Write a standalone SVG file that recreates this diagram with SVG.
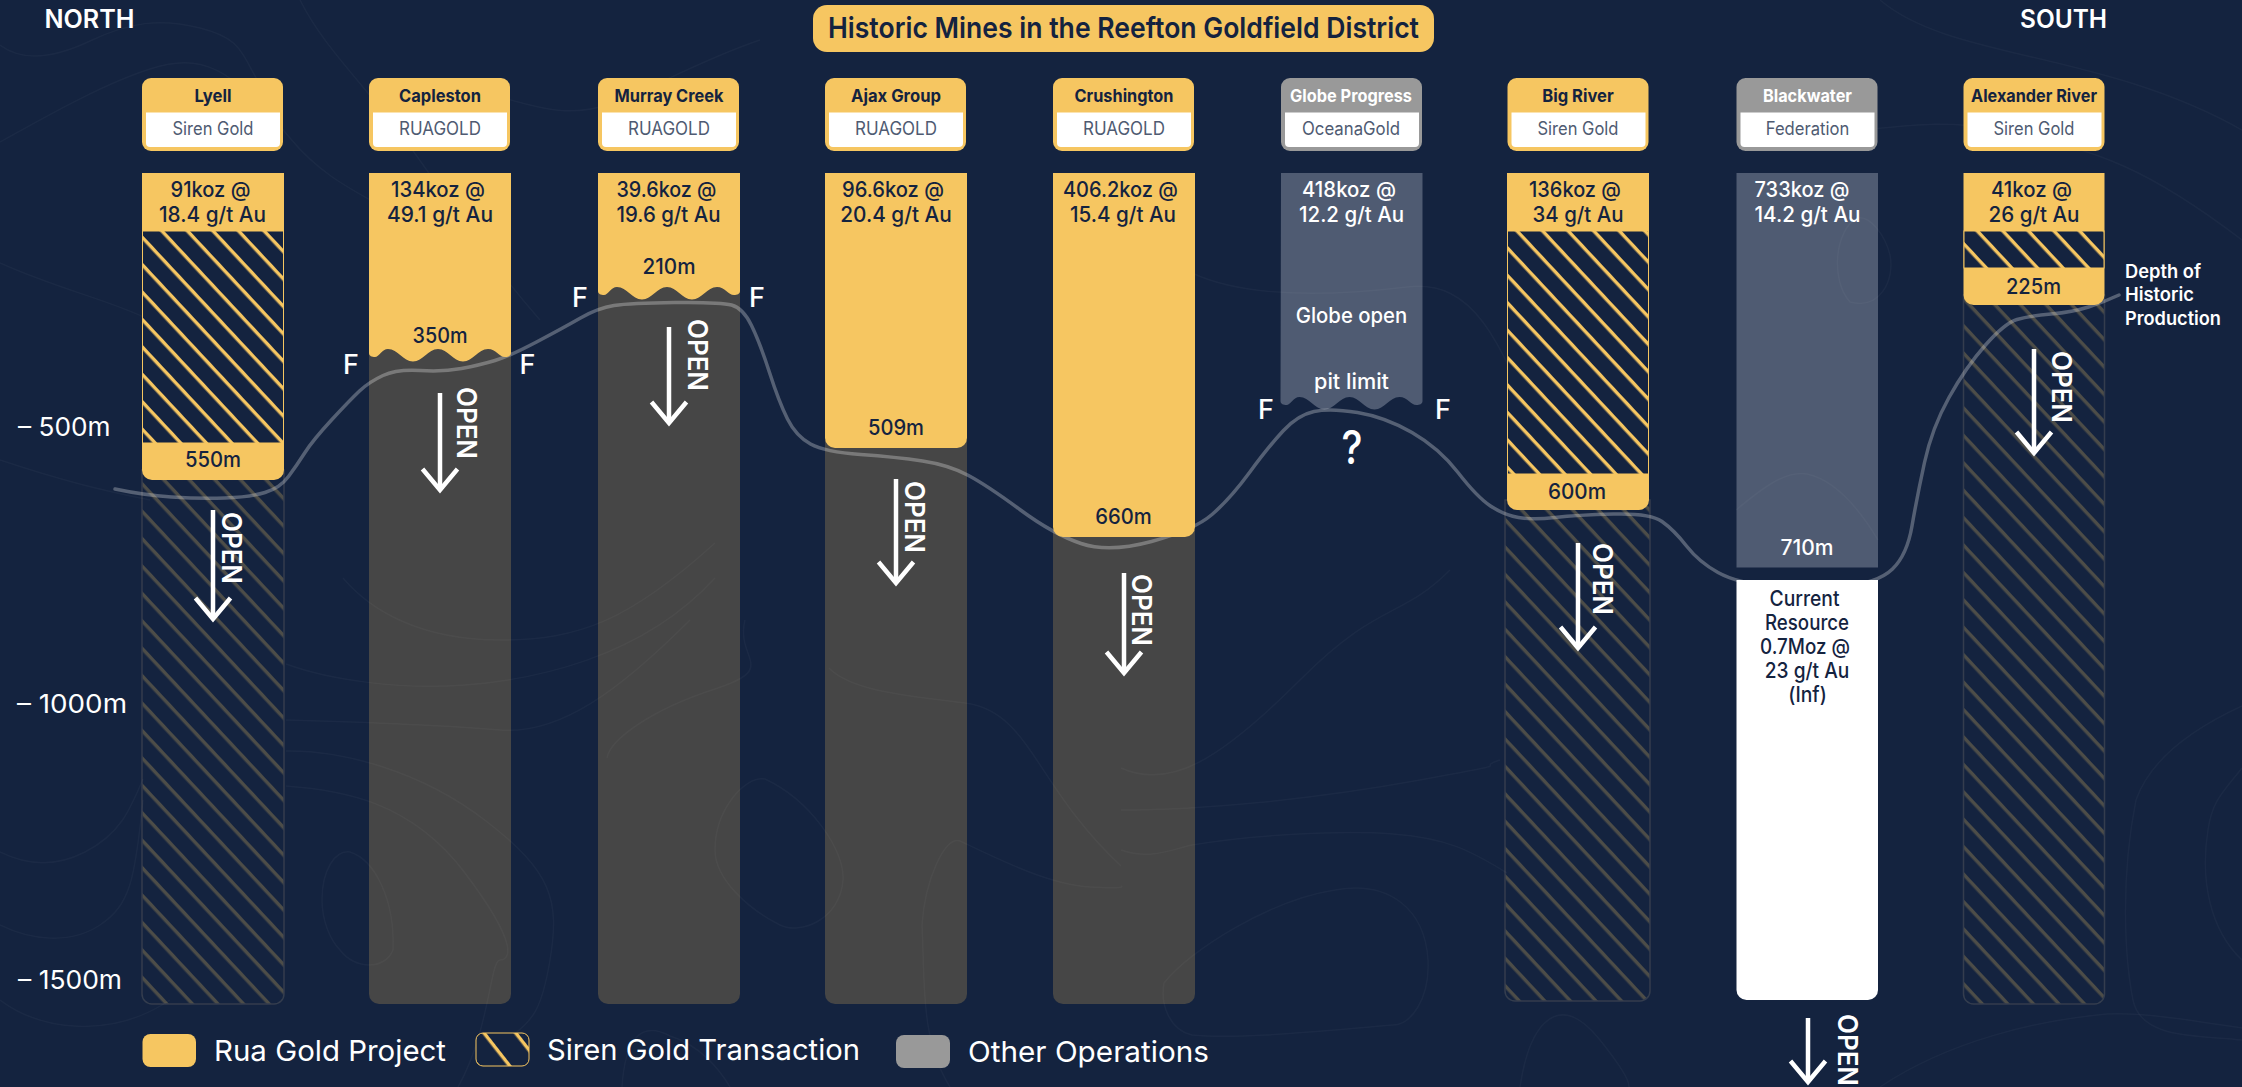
<svg xmlns="http://www.w3.org/2000/svg" width="2242" height="1087" viewBox="0 0 2242 1087">
<defs>
<style>
text{font-family:"Inter","Noto Sans",sans-serif;fill:#14233f}
.t{text-anchor:middle}
.l{font-size:17.500px;font-weight:700}
.s{font-size:18px;fill:#4f5b72}
.v{font-size:21px;font-weight:500;text-anchor:middle}
.w{fill:#fff}
.f{font-size:27px;font-weight:500;fill:#fff}
.open{font-size:27px;font-weight:600;fill:#fff}
.ax{font-size:26px;fill:#fff}
.leg{font-size:29px;fill:#fff}
.dep{font-size:18.500px;font-weight:600;fill:#fff}
.gold{fill:#f6c661}
.grey{fill:#999}
.slate{fill:#4f5b72}
.dark{fill:#464646}
.panel{fill:#fff}
.hatchU{fill:url(#hU);stroke:#f6c661;stroke-width:1}
.hatchL{fill:url(#hL);stroke:#343d4e;stroke-width:1.500}
.cont{fill:none;stroke:#fff;stroke-opacity:.032;stroke-width:1.500}
.depth{fill:none;stroke:#fff;stroke-opacity:.28;stroke-width:3.500;stroke-linecap:round}
.arr{stroke:#fff;stroke-width:4.500;fill:none;marker-end:url(#ah)}
</style>
<pattern id="hU" width="18.700" height="18.700" patternUnits="userSpaceOnUse" patternTransform="rotate(47)"><rect width="18.700" height="18.700" fill="#14233f"/><rect width="18.700" height="3.400" fill="#f6c661"/></pattern>
<pattern id="hL" width="18.700" height="18.700" patternUnits="userSpaceOnUse" patternTransform="rotate(47)"><rect width="18.700" height="3.400" fill="#4d4d48"/></pattern>
<pattern id="hK" width="25" height="25" patternUnits="userSpaceOnUse" patternTransform="rotate(52 476 1033)"><rect width="25" height="25" fill="#14233f"/><rect width="25" height="3.400" fill="#f6c661"/></pattern>
<marker id="ah" markerUnits="userSpaceOnUse" viewBox="-26 -22 30 44" refX="0" refY="0" markerWidth="30" markerHeight="44" orient="auto" overflow="visible"><path d="M-21,-17.500L0,0L-21,17.500" fill="none" stroke="#fff" stroke-width="4.500"/></marker>
</defs>
<rect id="background" width="2242" height="1087" fill="#14233f"/>

<g id="deep-columns">
<path class="hatchL" d="M142,470H284V994a10,10 0 0 1-10,10H152a10,10 0 0 1-10-10Z"/>
<path class="dark" d="M369,345H511V994a10,10 0 0 1-10,10H379a10,10 0 0 1-10-10Z"/>
<path class="dark" d="M598,285H740V994a10,10 0 0 1-10,10H608a10,10 0 0 1-10-10Z"/>
<path class="dark" d="M825,440H967V994a10,10 0 0 1-10,10H835a10,10 0 0 1-10-10Z"/>
<path class="dark" d="M1053,530H1195V994a10,10 0 0 1-10,10H1063a10,10 0 0 1-10-10Z"/>
<rect class="slate" x="1736.500" y="173" width="141.500" height="394.500"/>
<path class="hatchL" d="M1505,500H1650V991a10,10 0 0 1-10,10H1515a10,10 0 0 1-10-10Z"/>
<path class="hatchL" d="M1963.500,295H2104.500V994a10,10 0 0 1-10,10H1973.500a10,10 0 0 1-10-10Z"/>
<path class="slate" d="M1281,173H1422.500V401c0,3-3,4-6,4c-6,0-9-8-17-8c-10,0-15,12.500-25,12.500c-10,0-15-12.500-25-12.500c-10,0-15,12.500-25,12.500c-10,0-15-12.500-25-12.500c-6,0-9,8-13,8c-3,0-6-1-6-4Z"/>
</g>

<g id="contours">
<path class="cont" d="M0,45C20,60 50,60 90,41S160,18 200,28S240,50 260,85"/>
<path class="cont" d="M0,142C40,120 100,85 150,69S230,65 290,138S420,200 490,300"/>
<path class="cont" d="M0,263C60,290 110,300 150,320"/>
<path class="cont" d="M0,460C60,480 100,490 150,500"/>
<path class="cont" d="M300,0C320,40 350,70 390,120S470,240 540,320"/>
<path class="cont" d="M500,97C540,108 570,118 610,104S700,60 760,40"/>
<path class="cont" d="M0,852C20,862 50,870 85,852S130,810 143,779"/>
<path class="cont" d="M0,925C30,940 70,945 100,925S135,880 143,800"/>
<path class="cont" d="M0,1000C40,1030 110,1040 170,1000"/>
<path class="cont" d="M286,664C330,680 400,690 465,685S640,660 715,578"/>
<path class="cont" d="M286,720C360,722 440,725 500,730S620,690 690,620"/>
<path class="cont" d="M343,578C370,610 420,640 500,640S630,620 715,543"/>
<path class="cont" d="M286,786C340,790 410,800 465,873S510,960 500,960S490,1030 458,1087"/>
<path class="cont" d="M286,751C340,750 420,770 486,821S560,900 550,960S530,1020 500,1046"/>
<path class="cont" d="M322,900C322,870 335,850 350,852C375,860 395,900 393,950C385,970 355,970 340,950C330,940 322,920 322,900Z"/>
<path class="cont" d="M607,758C610,740 650,710 715,689S735,660 745,620"/>
<path class="cont" d="M715,850C715,810 745,775 765,779C810,800 845,850 843,880C840,920 800,935 780,925C750,910 715,880 715,850Z"/>
<path class="cont" d="M829,668C850,690 900,695 965,703S1035,786 1121,866"/>
<path class="cont" d="M922,925C925,880 945,835 960,841C1000,860 1050,885 1090,887S1121,886 1121,886"/>
<path class="cont" d="M922,925C925,980 920,1040 950,1087"/>
<path class="cont" d="M622,1087C625,1040 640,1020 670,1036C700,1045 720,1070 730,1087"/>
<path class="cont" d="M1121,768C1170,790 1220,760 1300,680S1400,620 1450,570"/>
<path class="cont" d="M1164,983C1190,950 1270,900 1335,890C1390,880 1425,910 1428,960C1430,1000 1410,1025 1393,1025C1330,1030 1240,1040 1192,1035C1170,1030 1160,1005 1164,983Z"/>
<path class="cont" d="M1121,850C1150,860 1170,850 1192,845C1250,835 1340,830 1393,834S1470,850 1507,873"/>
<path class="cont" d="M1121,810C1200,810 1310,800 1420,780S1470,770 1500,760"/>
<path class="cont" d="M1192,273C1250,300 1340,295 1407,287S1500,340 1540,440"/>
<path class="cont" d="M1857,218C1835,230 1830,280 1850,302C1880,310 1895,280 1890,255C1885,235 1870,215 1857,218Z"/>
<path class="cont" d="M1736,510C1760,490 1785,470 1807,474C1835,480 1860,510 1878,540"/>
<path class="cont" d="M1780,120C1840,150 1900,110 2000,130S2150,170 2242,240"/>
<path class="cont" d="M1880,0C1950,60 2100,50 2242,130"/>
<path class="cont" d="M2242,706C2190,730 2150,760 2136,800C2120,880 2125,960 2133,1000S2200,1035 2242,1040"/>
<path class="cont" d="M2242,768C2225,790 2212,800 2208,830C2200,880 2210,930 2242,960"/>
<path class="cont" d="M2242,1028C2190,1020 2140,1012 2107,1014C2040,1020 1950,1040 1880,1087"/>
<path class="cont" d="M1520,1087C1530,1020 1560,990 1600,1040S1625,1087 1630,1087"/>
</g>

<g id="connectors">
<path id="historic-depth" class="depth" d="M115,489Q143,495 171.500,497Q200,499 225,498Q250,497 265,492.500Q280,488 288.500,476.500Q297,465 305,452.500Q313,440 331.500,420Q350,400 359.500,391Q369,382 383,375.500Q397,369 420,370.500Q443,372 461.500,368.500Q480,365 495,360.500Q510,356 536.500,342Q563,328 580.500,318Q598,308 614,305.500Q630,303 675,302.500Q720,302 731.500,305Q743,308 751.500,325.500Q760,343 769.500,372.500Q779,402 787.500,419Q796,436 810.500,444Q825,452 860.500,454.500Q896,457 922.500,461Q949,465 968.500,475.500Q988,486 1020.500,510Q1053,534 1081,543.500Q1109,553 1151.500,541.500Q1194,530 1212,514.500Q1230,499 1249.500,472.500Q1269,446 1283.500,430.500Q1298,415 1314,411.500Q1330,408 1357.500,412.500Q1385,417 1412,432.500Q1439,448 1458,472.500Q1477,497 1490.500,506Q1504,515 1518.500,517.500Q1533,520 1555,517.500Q1577,515 1613.500,514Q1650,513 1662,521.500Q1674,530 1686.500,546Q1699,562 1718,572.500Q1737,583 1772,586.500Q1807,590 1842.500,586.500Q1878,583 1892.500,569Q1907,555 1912,526Q1917,497 1924.500,462.500Q1932,428 1949,397.500Q1966,367 1985.500,345Q2005,323 2017,319.500Q2029,316 2051,314Q2073,312 2088.500,307Q2104,302 2119,295"/>
<line class="arr" x1="213" y1="510" x2="213" y2="619"/>
<line class="arr" x1="440" y1="393" x2="440" y2="490"/>
<line class="arr" x1="669" y1="327" x2="669" y2="423"/>
<line class="arr" x1="896" y1="479" x2="896" y2="583"/>
<line class="arr" x1="1124" y1="573" x2="1124" y2="673"/>
<line class="arr" x1="1578" y1="543" x2="1578" y2="648"/>
<line class="arr" x1="2034" y1="349" x2="2034" y2="453"/>
<line class="arr" x1="1808" y1="1018" x2="1808" y2="1082"/>
</g>

<g id="title"><rect class="gold" x="813" y="5" width="621" height="47" rx="14"/><text class="t" x="1123.500" y="38" font-size="29" font-weight="600" textLength="591" lengthAdjust="spacingAndGlyphs">Historic Mines in the Reefton Goldfield District</text></g>
<text id="north" x="44.500" y="28" font-size="25" font-weight="600" style="fill:#fff" textLength="90" lengthAdjust="spacingAndGlyphs">NORTH</text>
<text id="south" x="2020" y="28" font-size="25" font-weight="600" style="fill:#fff" textLength="87" lengthAdjust="spacingAndGlyphs">SOUTH</text>

<g id="axis">
<text class="ax" x="18" y="436" textLength="92.500" lengthAdjust="spacingAndGlyphs">– 500m</text>
<text class="ax" x="17" y="713" textLength="110" lengthAdjust="spacingAndGlyphs">– 1000m</text>
<text class="ax" x="18" y="989" textLength="104" lengthAdjust="spacingAndGlyphs">– 1500m</text>
</g>

<g id="lyell">
<rect class="gold" x="142" y="78" width="141" height="73" rx="9"/><path class="panel" d="M146,112.500H280V143a4,4 0 0 1-4,4H150a4,4 0 0 1-4-4Z"/>
<text class="t l" x="213" y="102" textLength="37" lengthAdjust="spacingAndGlyphs">Lyell</text><text class="t s" x="213" y="135" textLength="81" lengthAdjust="spacingAndGlyphs">Siren Gold</text>
<path class="gold" d="M142,173H284V470a10,10 0 0 1-10,10H152a10,10 0 0 1-10-10Z"/><rect class="hatchU" x="142.500" y="231" width="141" height="212"/>
<text class="v" x="210.500" y="197" textLength="80" lengthAdjust="spacingAndGlyphs">91koz @</text><text class="v" x="212.500" y="222" textLength="107" lengthAdjust="spacingAndGlyphs">18.4 g/t Au</text>
<text class="v" x="213" y="467" textLength="56" lengthAdjust="spacingAndGlyphs">550m</text>
</g>

<g id="capleston">
<rect class="gold" x="369" y="78" width="141" height="73" rx="9"/><path class="panel" d="M373,112.500H507V143a4,4 0 0 1-4,4H377a4,4 0 0 1-4-4Z"/>
<text class="t l" x="440" y="102" textLength="82" lengthAdjust="spacingAndGlyphs">Capleston</text><text class="t s" x="440" y="135" textLength="82" lengthAdjust="spacingAndGlyphs">RUAGOLD</text>
<path class="gold" d="M369,173H511V353c0,3-3,4-6,4c-6,0-9-8-17-8c-10,0-15,12.500-25,12.500c-10,0-15-12.500-25-12.500c-10,0-15,12.500-25,12.500c-10,0-15-12.500-25-12.500c-6,0-9,8-13,8c-3,0-6-1-6-4Z"/>
<text class="v" x="438" y="197" textLength="94" lengthAdjust="spacingAndGlyphs">134koz @</text><text class="v" x="440" y="222" textLength="106" lengthAdjust="spacingAndGlyphs">49.1 g/t Au</text>
<text class="v" x="440" y="343" textLength="55" lengthAdjust="spacingAndGlyphs">350m</text>
</g>

<g id="murray-creek">
<rect class="gold" x="598" y="78" width="141" height="73" rx="9"/><path class="panel" d="M602,112.500H736V143a4,4 0 0 1-4,4H606a4,4 0 0 1-4-4Z"/>
<text class="t l" x="669" y="102" textLength="109" lengthAdjust="spacingAndGlyphs">Murray Creek</text><text class="t s" x="669" y="135" textLength="82" lengthAdjust="spacingAndGlyphs">RUAGOLD</text>
<path class="gold" d="M598,173H740V291c0,3-3,4-6,4c-6,0-9-8-17-8c-10,0-15,12.500-25,12.500c-10,0-15-12.500-25-12.500c-10,0-15,12.500-25,12.500c-10,0-15-12.500-25-12.500c-6,0-9,8-13,8c-3,0-6-1-6-4Z"/>
<text class="v" x="666.500" y="197" textLength="100" lengthAdjust="spacingAndGlyphs">39.6koz @</text><text class="v" x="668.500" y="222" textLength="104" lengthAdjust="spacingAndGlyphs">19.6 g/t Au</text>
<text class="v" x="669" y="274" textLength="53" lengthAdjust="spacingAndGlyphs">210m</text>
</g>

<g id="ajax-group">
<rect class="gold" x="825" y="78" width="141" height="73" rx="9"/><path class="panel" d="M829,112.500H963V143a4,4 0 0 1-4,4H833a4,4 0 0 1-4-4Z"/>
<text class="t l" x="896" y="102" textLength="90" lengthAdjust="spacingAndGlyphs">Ajax Group</text><text class="t s" x="896" y="135" textLength="82" lengthAdjust="spacingAndGlyphs">RUAGOLD</text>
<path class="gold" d="M825,173H967V438a10,10 0 0 1-10,10H835a10,10 0 0 1-10-10Z"/>
<text class="v" x="893" y="197" textLength="102" lengthAdjust="spacingAndGlyphs">96.6koz @</text><text class="v" x="896" y="222" textLength="111.500" lengthAdjust="spacingAndGlyphs">20.4 g/t Au</text>
<text class="v" x="896" y="434.500" textLength="56" lengthAdjust="spacingAndGlyphs">509m</text>
</g>

<g id="crushington">
<rect class="gold" x="1053" y="78" width="141" height="73" rx="9"/><path class="panel" d="M1057,112.500H1191V143a4,4 0 0 1-4,4H1061a4,4 0 0 1-4-4Z"/>
<text class="t l" x="1124" y="102" textLength="99" lengthAdjust="spacingAndGlyphs">Crushington</text><text class="t s" x="1124" y="135" textLength="82" lengthAdjust="spacingAndGlyphs">RUAGOLD</text>
<path class="gold" d="M1053,173H1195V527a10,10 0 0 1-10,10H1063a10,10 0 0 1-10-10Z"/>
<text class="v" x="1120.500" y="197" textLength="115" lengthAdjust="spacingAndGlyphs">406.2koz @</text><text class="v" x="1123" y="222" textLength="106" lengthAdjust="spacingAndGlyphs">15.4 g/t Au</text>
<text class="v" x="1123.500" y="523.500" textLength="56.500" lengthAdjust="spacingAndGlyphs">660m</text>
</g>

<g id="globe-progress">
<rect class="grey" x="1281" y="78" width="141" height="73" rx="9"/><path class="panel" d="M1285,112.500H1419V143a4,4 0 0 1-4,4H1289a4,4 0 0 1-4-4Z"/>
<text class="t l w" x="1351" y="102" textLength="122" lengthAdjust="spacingAndGlyphs">Globe Progress</text><text class="t s" x="1351" y="135" textLength="98" lengthAdjust="spacingAndGlyphs">OceanaGold</text>
<text class="v w" x="1349" y="197" textLength="94" lengthAdjust="spacingAndGlyphs">418koz @</text><text class="v w" x="1351.500" y="222" textLength="105" lengthAdjust="spacingAndGlyphs">12.2 g/t Au</text>
<text class="v w" x="1351.500" y="323" textLength="111.500" lengthAdjust="spacingAndGlyphs">Globe open</text><text class="v w" x="1351.500" y="388.500" textLength="75" lengthAdjust="spacingAndGlyphs">pit limit</text>
<text class="t w" x="1352" y="464" font-size="47" font-weight="500" textLength="21" lengthAdjust="spacingAndGlyphs">?</text>
</g>

<g id="big-river">
<rect class="gold" x="1507.500" y="78" width="141" height="73" rx="9"/><path class="panel" d="M1511.500,112.500H1645.500V143a4,4 0 0 1-4,4H1515.500a4,4 0 0 1-4-4Z"/>
<text class="t l" x="1578" y="102" textLength="71.500" lengthAdjust="spacingAndGlyphs">Big River</text><text class="t s" x="1578" y="135" textLength="81" lengthAdjust="spacingAndGlyphs">Siren Gold</text>
<path class="gold" d="M1507,173H1649V500a10,10 0 0 1-10,10H1517a10,10 0 0 1-10-10Z"/><rect class="hatchU" x="1507.500" y="231" width="141" height="243"/>
<text class="v" x="1575" y="197" textLength="92" lengthAdjust="spacingAndGlyphs">136koz @</text><text class="v" x="1578" y="222" textLength="91" lengthAdjust="spacingAndGlyphs">34 g/t Au</text>
<text class="v" x="1577" y="499" textLength="58" lengthAdjust="spacingAndGlyphs">600m</text>
</g>

<g id="blackwater">
<rect class="grey" x="1736.500" y="78" width="141" height="73" rx="9"/><path class="panel" d="M1740.500,112.500H1874.500V143a4,4 0 0 1-4,4H1744.500a4,4 0 0 1-4-4Z"/>
<text class="t l w" x="1807.500" y="102" textLength="89" lengthAdjust="spacingAndGlyphs">Blackwater</text><text class="t s" x="1807.500" y="135" textLength="83.500" lengthAdjust="spacingAndGlyphs">Federation</text>
<text class="v w" x="1802" y="197" textLength="95" lengthAdjust="spacingAndGlyphs">733koz @</text><text class="v w" x="1807.500" y="222" textLength="106" lengthAdjust="spacingAndGlyphs">14.2 g/t Au</text>
<text class="v w" x="1807" y="555" textLength="53" lengthAdjust="spacingAndGlyphs">710m</text>
<path d="M1736.500,580H1878V990a10,10 0 0 1-10,10H1746.500a10,10 0 0 1-10-10Z" fill="#fff"/>
<text class="v" x="1804.500" y="606" textLength="70" lengthAdjust="spacingAndGlyphs">Current</text><text class="v" x="1807" y="630" textLength="84" lengthAdjust="spacingAndGlyphs">Resource</text><text class="v" x="1805" y="654" textLength="90" lengthAdjust="spacingAndGlyphs">0.7Moz @</text><text class="v" x="1807" y="678" textLength="84.500" lengthAdjust="spacingAndGlyphs">23 g/t Au</text><text class="v" x="1807.500" y="701.500" textLength="38.500" lengthAdjust="spacingAndGlyphs">(Inf)</text>
</g>

<g id="alexander-river">
<rect class="gold" x="1963.500" y="78" width="141" height="73" rx="9"/><path class="panel" d="M1967.500,112.500H2101.500V143a4,4 0 0 1-4,4H1971.500a4,4 0 0 1-4-4Z"/>
<text class="t l" x="2034" y="102" textLength="126" lengthAdjust="spacingAndGlyphs">Alexander River</text><text class="t s" x="2034" y="135" textLength="81" lengthAdjust="spacingAndGlyphs">Siren Gold</text>
<path class="gold" d="M1963.500,173H2104.500V295a10,10 0 0 1-10,10H1973.500a10,10 0 0 1-10-10Z"/><rect class="hatchU" x="1964" y="231" width="140" height="37"/>
<text class="v" x="2031.500" y="197" textLength="81" lengthAdjust="spacingAndGlyphs">41koz @</text><text class="v" x="2034" y="222" textLength="91" lengthAdjust="spacingAndGlyphs">26 g/t Au</text>
<text class="v" x="2033.500" y="293.500" textLength="55" lengthAdjust="spacingAndGlyphs">225m</text>
</g>

<g id="fault-labels">
<text class="f" x="343" y="374">F</text><text class="f" x="519.500" y="374">F</text>
<text class="f" x="572" y="307">F</text><text class="f" x="749" y="307">F</text>
<text class="f" x="1258" y="419">F</text><text class="f" x="1435" y="419">F</text>
</g>

<g id="open-labels">
<text class="open" transform="translate(222,512) rotate(90)" textLength="72" lengthAdjust="spacingAndGlyphs">OPEN</text>
<text class="open" transform="translate(457,387) rotate(90)" textLength="72" lengthAdjust="spacingAndGlyphs">OPEN</text>
<text class="open" transform="translate(688,319) rotate(90)" textLength="72" lengthAdjust="spacingAndGlyphs">OPEN</text>
<text class="open" transform="translate(905,481) rotate(90)" textLength="72" lengthAdjust="spacingAndGlyphs">OPEN</text>
<text class="open" transform="translate(1132,574) rotate(90)" textLength="72" lengthAdjust="spacingAndGlyphs">OPEN</text>
<text class="open" transform="translate(1593,543) rotate(90)" textLength="72" lengthAdjust="spacingAndGlyphs">OPEN</text>
<text class="open" transform="translate(2052,351) rotate(90)" textLength="72" lengthAdjust="spacingAndGlyphs">OPEN</text>
<text class="open" transform="translate(1838,1014) rotate(90)" textLength="72" lengthAdjust="spacingAndGlyphs">OPEN</text>
</g>

<g id="depth-label">
<text class="dep" x="2125" y="278" textLength="76" lengthAdjust="spacingAndGlyphs">Depth of</text>
<text class="dep" x="2125" y="301" textLength="69" lengthAdjust="spacingAndGlyphs">Historic</text>
<text class="dep" x="2125" y="324.500" textLength="96" lengthAdjust="spacingAndGlyphs">Production</text>
</g>

<g id="legend">
<rect class="gold" x="142.500" y="1034" width="53.500" height="33" rx="8"/>
<text class="leg" x="214" y="1061" textLength="232" lengthAdjust="spacingAndGlyphs">Rua Gold Project</text>
<rect x="476" y="1033" width="53" height="33" rx="7" fill="url(#hK)" stroke="#f6c661" stroke-width="1"/>
<text class="leg" x="547" y="1060" textLength="313" lengthAdjust="spacingAndGlyphs">Siren Gold Transaction</text>
<rect class="grey" x="896" y="1035" width="54" height="33" rx="8"/>
<text class="leg" x="968" y="1062" textLength="241" lengthAdjust="spacingAndGlyphs">Other Operations</text>
</g>
</svg>
